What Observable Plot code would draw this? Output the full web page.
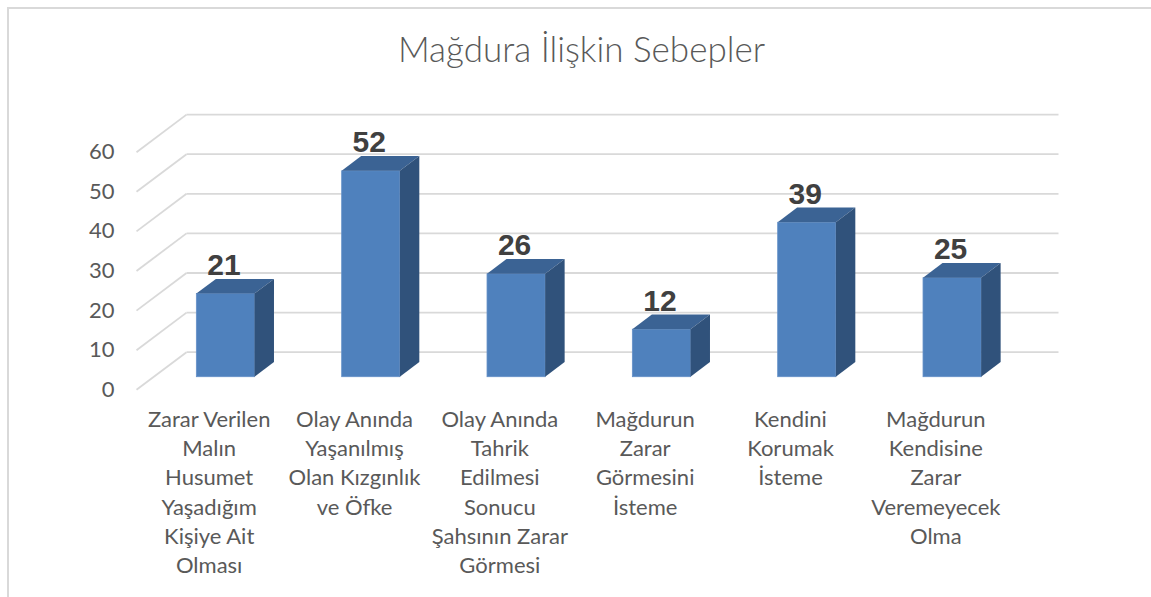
<!DOCTYPE html>
<html><head><meta charset="utf-8">
<script src="https://cdn.jsdelivr.net/npm/d3@7"></script>
<script src="https://cdn.jsdelivr.net/npm/@observablehq/plot@0.6"></script>
<style>
body{margin:0;background:#fff;}
#wrap{position:relative;width:1151px;height:597px;overflow:hidden;background:#fff;}
#frame{position:absolute;left:7px;top:7px;width:1200px;height:650px;border-top:2px solid #d9d9d9;border-left:2px solid #d9d9d9;}
#title{position:absolute;left:0;top:31px;width:1151px;text-align:center;font-family:Lato,"Open Sans",sans-serif;font-weight:300;font-size:35px;line-height:35px;color:#595959;padding-left:12px;box-sizing:border-box;white-space:nowrap;}
#chart{position:absolute;left:0;top:90px;}
</style></head>
<body><div id="wrap"><div id="frame"></div><div id="title">Mağdura İlişkin Sebepler</div><div id="chart"></div></div>
<script>
// ---- data ----
const categories = [
  "Zarar Verilen Malın Husumet Yaşadığım Kişiye Ait Olması",
  "Olay Anında Yaşanılmış Olan Kızgınlık ve Öfke",
  "Olay Anında Tahrik Edilmesi Sonucu Şahsının Zarar Görmesi",
  "Mağdurun Zarar Görmesini İsteme",
  "Kendini Korumak İsteme",
  "Mağdurun Kendisine Zarar Veremeyecek Olma"
];
const values = [21, 52, 26, 12, 39, 25];
const gridTicks = [0, 10, 20, 30, 40, 50, 60];

// ---- layout constants (pixels) ----
const W = 1151, H = 507;
const frontLeft = 136, frontRight = 1008;
const yBottom = 299.3, yTop = 61.7;
const wallDX = 50, wallDY = 37.6;       // depth of floor in px
const barFrontFrac = 0.335, barDepthFrac = 0.39;
const labelFont = "Lato";
const labelSize = 22;
const wrapWidth = 140;

const n = categories.length;
const pxX = (frontRight - frontLeft) / n;
const pxY = (yBottom - yTop) / 60;
const ux = p => p / pxX, uy = p => p / pxY;

// word wrap
const ctx = document.createElement("canvas").getContext("2d");
ctx.font = `${labelSize}px ${labelFont}`;
function wrap(s) {
  const words = s.split(" "); const lines = []; let cur = "";
  for (const w of words) {
    const t = cur ? cur + " " + w : w;
    if (cur && ctx.measureText(t).width > wrapWidth) { lines.push(cur); cur = w; } else cur = t;
  }
  if (cur) lines.push(cur);
  return lines.join("\n");
}

const wdx = ux(wallDX), wdy = uy(wallDY);
const fx = barFrontFrac * wdx, fy = barFrontFrac * wdy;
const bdx = barDepthFrac * wdx, bdy = barDepthFrac * wdy;

const bars = values.map((v, i) => ({i, v, xl: i + 0.3 + fx, xr: i + 0.7 + fx}));
const gridDiag = gridTicks.map(t => ({x1: 0, y1: t, x2: wdx, y2: t + wdy}));
const gridBack = gridTicks.map(t => ({x1: wdx, y1: t + wdy, x2: n + wdx, y2: t + wdy}));
const sidePts = bars.flatMap(b => [
  {z: b.i, x: b.xr, y1: fy, y2: b.v + fy},
  {z: b.i, x: b.xr + bdx, y1: fy + bdy, y2: b.v + fy + bdy}
]);
const topPts = bars.flatMap(b => [
  {z: b.i, y: b.v + fy, x1: b.xl, x2: b.xr},
  {z: b.i, y: b.v + fy + bdy, x1: b.xl + bdx, x2: b.xr + bdx}
]);

const plot = Plot.plot({
  width: W, height: H, margin: 0,
  x: {type: "linear", domain: [0, n], range: [frontLeft, frontRight], axis: null},
  y: {type: "linear", domain: [0, 60], range: [yBottom, yTop], axis: null},
  style: {fontFamily: labelFont, background: "transparent", overflow: "visible"},
  marks: [
    Plot.link(gridDiag, {x1: "x1", y1: "y1", x2: "x2", y2: "y2", stroke: "#d9d9d9", strokeWidth: 1.8}),
    Plot.link(gridBack, {x1: "x1", y1: "y1", x2: "x2", y2: "y2", stroke: "#d9d9d9", strokeWidth: 1.8}),
    Plot.rectY(bars, {x1: "xl", x2: "xr", y1: () => fy, y2: d => d.v + fy, fill: "#4f81bd", stroke: "#6590c8", strokeWidth: 0.8}),
    Plot.areaX(topPts, {y: "y", x1: "x1", x2: "x2", z: "z", fill: "#3b6394"}),
    Plot.areaY(sidePts, {x: "x", y1: "y1", y2: "y2", z: "z", fill: "#30527b"}),
    Plot.text(bars, {x: d => d.i + 0.5 + fx, y: d => d.v + fy + bdy, dx: -2, dy: -4.5, text: d => String(d.v),
      lineAnchor: "bottom", fontFamily: "Liberation Sans", fontWeight: "bold", fontSize: 30, fill: "#404040"}),
    Plot.text(gridTicks, {x: 0, y: d => d, dx: -22, text: d => String(d), textAnchor: "end", lineAnchor: "middle",
      fontSize: labelSize, fill: "#595959"}),
    Plot.text(categories, {x: (d, i) => i + 0.5, y: 0, dy: 16.2, text: d => wrap(d), lineAnchor: "top",
      lineHeight: 1.33, fontSize: labelSize, fill: "#595959"})
  ]
});
document.getElementById("chart").appendChild(plot);
</script>
</body></html>
